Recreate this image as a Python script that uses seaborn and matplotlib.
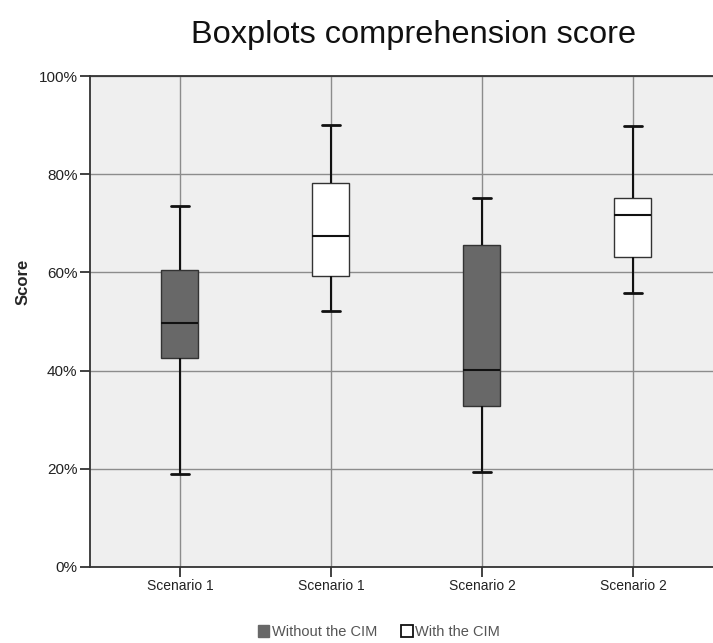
import matplotlib
matplotlib.use("Agg")
import matplotlib.pyplot as plt
import seaborn as sns
import pandas as pd
from matplotlib.patches import Patch

scenarios = ["Scenario 1", "Scenario 1", "Scenario 2", "Scenario 2"]
groups = ["Scenario 1", "Scenario 2"]
conditions = ["Without the CIM", "With the CIM"]

# five-number summaries (min, q1, median, q3, max) in %
s1_without = [18.9, 42.6, 49.7, 60.5, 73.5]
s1_with = [52.1, 59.3, 67.5, 78.2, 90.0]
s2_without = [19.4, 32.8, 40.1, 65.5, 75.2]
s2_with = [55.8, 63.1, 71.6, 75.2, 89.9]

rows = []
for grp, cond, vals in [("Scenario 1", "Without the CIM", s1_without),
                        ("Scenario 1", "With the CIM", s1_with),
                        ("Scenario 2", "Without the CIM", s2_without),
                        ("Scenario 2", "With the CIM", s2_with)]:
    for v in vals:
        rows.append({"scenario": grp, "condition": cond, "score": v})
df = pd.DataFrame(rows)

sns.set_style("white")
plt.rcParams["font.family"] = ["Liberation Sans", "DejaVu Sans"]

fig = plt.figure(figsize=(7.13, 6.43), dpi=100)
ax = fig.add_axes([90 / 713, 1 - 567 / 643, 1 - 90 / 713, (567 - 76) / 643])
ax.set_facecolor("#efefef")

palette = {"Without the CIM": "#686868", "With the CIM": "#ffffff"}
sns.boxplot(data=df, x="scenario", y="score", hue="condition",
            order=groups, hue_order=conditions, palette=palette,
            whis=(0, 100), width=1.0, gap=0.755, dodge=True,
            linecolor="#333333", linewidth=1.0, ax=ax, legend=False,
            medianprops={"color": "#111111", "linewidth": 1.5},
            whiskerprops={"color": "#111111", "linewidth": 1.5},
            capprops={"color": "#111111", "linewidth": 2.0},
            zorder=3)

positions = [-0.25, 0.25, 0.75, 1.25]
ax.set_xticks(positions)
ax.set_xticklabels(scenarios, fontsize=10, color="#222222")
ax.set_xlim(-0.548, 1.515)
ax.set_ylim(0, 100)
ax.set_yticks([0, 20, 40, 60, 80, 100])
ax.set_yticklabels(["0%", "20%", "40%", "60%", "80%", "100%"], fontsize=11, color="#222222")

ax.grid(True, color="#8c8c8c", linewidth=1.0, zorder=0)
ax.set_axisbelow(True)
ax.spines["right"].set_visible(False)
for side in ["left", "bottom", "top"]:
    ax.spines[side].set_color("#333333")
    ax.spines[side].set_linewidth(1.3)
ax.tick_params(axis="both", which="both", length=7, width=1.3, color="#333333",
               direction="out", left=True, bottom=True, pad=2)
ax.set_xlabel("")
ax.set_ylabel("Score", fontsize=12, fontweight="bold")
ax.yaxis.set_label_coords(-0.096, 0.58)

fig.text(414 / 713, 1 - 35 / 643, "Boxplots comprehension score",
         fontsize=23.4, ha="center", va="center", color="#111111")

handles = [Patch(facecolor="#686868", edgecolor="#686868", label="Without the CIM"),
           Patch(facecolor="#ffffff", edgecolor="#111111", linewidth=1.3, label="With the CIM")]
fig.legend(handles=handles, loc="center", bbox_to_anchor=(379 / 713, 1 - 632 / 643),
           ncol=2, frameon=False, fontsize=10.5, handlelength=0.8, handleheight=0.8,
           handletextpad=0.2, columnspacing=1.6, labelcolor="#555555")

fig.savefig("out.png", dpi=100)
